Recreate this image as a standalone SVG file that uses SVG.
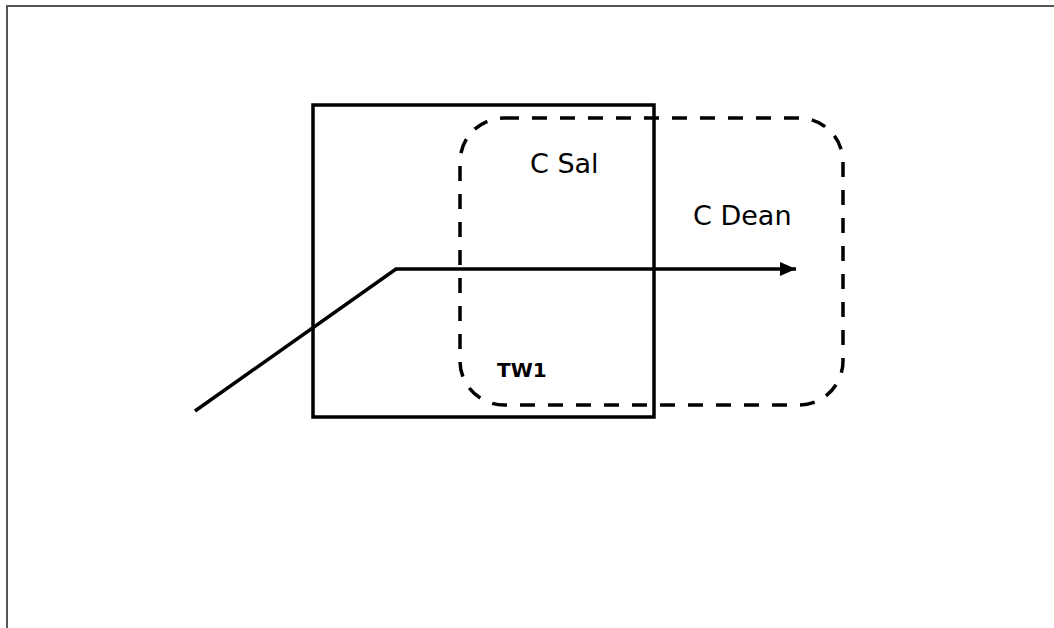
<svg xmlns="http://www.w3.org/2000/svg" width="1054" height="628" viewBox="0 0 1054 628">
  <style>
    .frame { fill: none; stroke: #555555; stroke-width: 2; }
    .box { fill: none; stroke: #000000; stroke-width: 3.5; }
    .dashed { fill: none; stroke: #000000; stroke-width: 3.5; stroke-dasharray: 15 13; }
    .edge { fill: none; stroke: #000000; stroke-width: 3.5; stroke-linejoin: miter; }
    .label { font-family: "DejaVu Sans", Verdana, sans-serif; font-size: 27px; fill: #000000; }
    .tag { font-family: "DejaVu Sans", Verdana, sans-serif; font-size: 20px; font-weight: bold; fill: #000000; }
  </style>
  <defs>
    <marker id="arrow" markerWidth="16" markerHeight="14" refX="16" refY="7" orient="auto" markerUnits="userSpaceOnUse">
      <path d="M0,0 L16,7 L0,14 Z" fill="#000000"/>
    </marker>
  </defs>
  <rect width="1054" height="628" fill="#ffffff"/>
  <!-- page frame, open to the right and bottom -->
  <rect class="frame" x="7" y="6" width="1060" height="640"/>

  <g id="tw1">
    <rect class="box" x="313" y="105" width="341" height="312"/>
    <text class="tag" x="497" y="377">TW1</text>
  </g>

  <g id="c-dean">
    <rect class="dashed" x="460" y="118" width="383" height="287" rx="44" ry="44"/>
    <text class="label" x="530" y="173">C Sal</text>
    <text class="label" x="693" y="225">C Dean</text>
  </g>

  <g id="connectors">
    <polyline class="edge" points="195,411 396,269 796,269" marker-end="url(#arrow)"/>
  </g>
</svg>
